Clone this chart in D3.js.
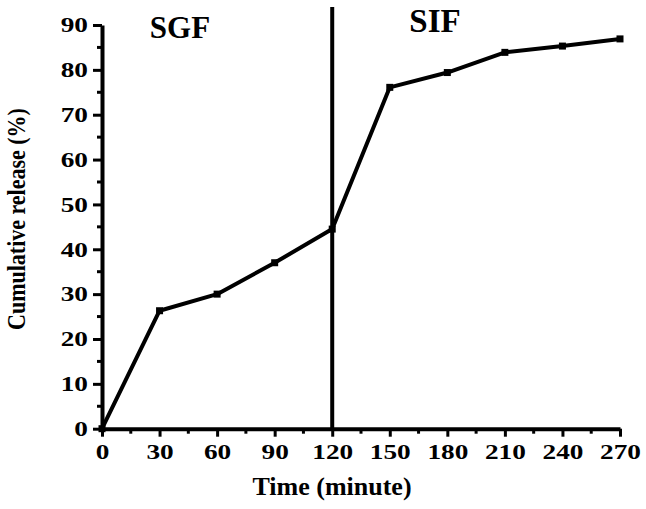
<!DOCTYPE html>
<html>
<head>
<meta charset="utf-8">
<script src="https://cdn.jsdelivr.net/npm/d3@7"></script>
<style>
body { margin: 0; background: #fff; }
text { font-family: "Liberation Serif", "Times New Roman", serif; font-weight: bold; fill: #000; }
</style>
</head>
<body>
<div id="chart"></div>
<script>
var times = [0, 30, 60, 90, 120, 150, 180, 210, 240, 270];
var release = [0, 26.3, 30, 37, 44.5, 76.1, 79.4, 83.9, 85.3, 86.9];
var xTicks = [0, 30, 60, 90, 120, 150, 180, 210, 240, 270];
var yTicks = [0, 10, 20, 30, 40, 50, 60, 70, 80, 90];
var phaseLabels = ["SGF", "SIF"];
var phaseSplit = 120;

var width = 646, height = 509;
var stretch = 1.3; // tick labels look wide in the original

var svg = d3.select("#chart").append("svg")
  .attr("width", width)
  .attr("height", height);

var x = d3.scaleLinear().domain([0, 270]).range([102, 620]);
var y = d3.scaleLinear().domain([0, 90]).range([428.7, 25]);

// minor ticks
var xMinor = d3.range(15, 270, 30);
var yMinor = d3.range(5, 90, 10);

svg.selectAll(".xminor").data(xMinor).enter().append("line")
  .attr("x1", function(d){ return x(d); }).attr("x2", function(d){ return x(d); })
  .attr("y1", y(0)).attr("y2", y(0) + 5)
  .attr("stroke", "#000").attr("stroke-width", 3);

svg.selectAll(".yminor").data(yMinor).enter().append("line")
  .attr("x1", x(0) - 5).attr("x2", x(0))
  .attr("y1", function(d){ return y(d); }).attr("y2", function(d){ return y(d); })
  .attr("stroke", "#000").attr("stroke-width", 3);

// x axis
var xAxis = svg.append("g")
  .attr("transform", "translate(0," + y(0) + ")")
  .call(d3.axisBottom(x).tickValues(xTicks).tickSize(8).tickSizeOuter(0));

// y axis
var yAxis = svg.append("g")
  .attr("transform", "translate(" + x(0) + ",0)")
  .call(d3.axisLeft(y).tickValues(yTicks).tickSize(9).tickSizeOuter(0));

[xAxis, yAxis].forEach(function(g) {
  g.select(".domain").attr("stroke", "#000").attr("stroke-width", 4);
  g.selectAll(".tick line").attr("stroke", "#000").attr("stroke-width", 3);
  g.selectAll(".tick text")
    .style("font-family", "'Liberation Serif', serif")
    .style("font-weight", "bold")
    .style("font-size", "21px")
    .attr("fill", "#000");
});

xAxis.selectAll(".tick text")
  .attr("y", 30).attr("dy", 0)
  .attr("transform", "scale(" + stretch + ",1)");

yAxis.selectAll(".tick text")
  .attr("x", -14 / stretch)
  .attr("transform", "scale(" + stretch + ",1)");

// phase divider
svg.append("line")
  .attr("x1", x(phaseSplit)).attr("x2", x(phaseSplit))
  .attr("y1", 7).attr("y2", y(0))
  .attr("stroke", "#000").attr("stroke-width", 4);

// data line
var line = d3.line()
  .x(function(d, i){ return x(times[i]); })
  .y(function(d){ return y(d); });

svg.append("path")
  .datum(release)
  .attr("d", line)
  .attr("fill", "none")
  .attr("stroke", "#000")
  .attr("stroke-width", 4)
  .attr("stroke-linejoin", "round");

svg.selectAll(".pt").data(release).enter().append("rect")
  .attr("x", function(d, i){ return x(times[i]) - 3.5; })
  .attr("y", function(d){ return y(d) - 3.5; })
  .attr("width", 7).attr("height", 7)
  .attr("fill", "#000");

// phase labels
svg.append("text")
  .attr("x", 180).attr("y", 38)
  .attr("text-anchor", "middle")
  .style("font-size", "31px")
  .text(phaseLabels[0]);

svg.append("text")
  .attr("x", 435).attr("y", 32)
  .attr("text-anchor", "middle")
  .style("font-size", "33px")
  .text(phaseLabels[1]);

// axis titles
svg.append("text")
  .attr("x", 332).attr("y", 495)
  .attr("text-anchor", "middle")
  .style("font-size", "26px")
  .text("Time (minute)");

svg.append("text")
  .attr("transform", "translate(25,219) rotate(-90) scale(1,1.15)")
  .attr("text-anchor", "middle")
  .style("font-size", "22px")
  .text("Cumulative release (%)");
</script>
</body>
</html>
